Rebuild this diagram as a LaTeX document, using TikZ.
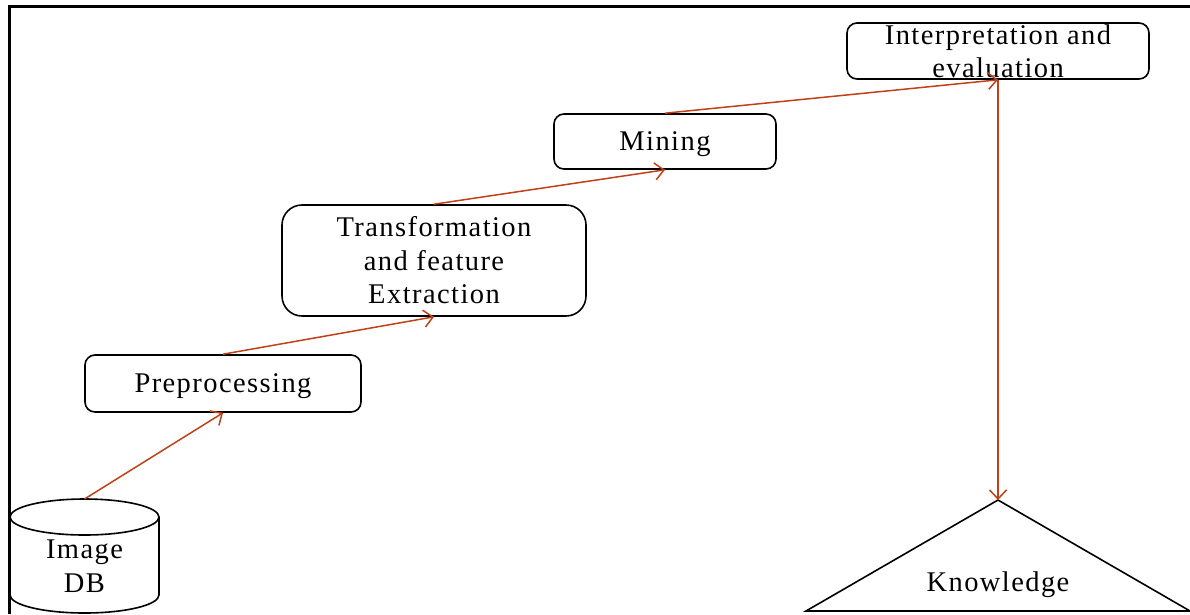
\documentclass[tikz,border=0pt]{standalone}
\usepackage{fontspec}
\setmainfont[LetterSpace=5]{Liberation Serif}
\usetikzlibrary{arrows.meta}
\definecolor{flowred}{RGB}{192,64,24}
\tikzset{
  stepbox/.style={draw,rounded corners=10pt,line width=1.6pt,align=center,inner sep=0pt},
  oneline/.style={text depth=0pt},
  flow/.style={draw=flowred,line width=1.5pt,-{Straight Barb[length=9pt,width=17pt]}},
  outline/.style={draw,line width=1.6pt}
}

\begin{document}
\begin{tikzpicture}[x=1pt,y=-1pt,font=\fontsize{28.5}{33.5}\selectfont]
  \useasboundingbox (0,0) rectangle (1190,614);
  % frame (only top and left are visible)
  \draw[line width=3pt] (9,614) -- (9,6) -- (1190,6);
  % database
  \draw[outline] (10,517) -- (10,595) arc (180:0:74.5 and 18) -- (159,517);
  \draw[outline] (84.5,517) ellipse (74.5 and 18);
  \coordinate (dbtop) at (84.5,499);
  \node[align=center] (imgdb) at (84.5,566) {Image\\DB};
  % steps
  \node[stepbox,oneline,minimum width=276pt,minimum height=57pt] (prep) at (223,383.5) {Preprocessing};
  \node[stepbox,rounded corners=20pt,minimum width=304pt,minimum height=111pt] (trans) at (434,260.5) {Transformation\\and feature\\Extraction};
  \node[stepbox,oneline,minimum width=222pt,minimum height=55pt] (mining) at (665,141.5) {Mining};
  \node[stepbox,minimum width=302pt,minimum height=56pt] (interp) at (998,51) {Interpretation and\\evaluation};
  % knowledge
  \draw[outline] (998,500) -- (1190,611) -- (806,611) -- cycle;
  \coordinate (knowtop) at (998,500);
  \node[oneline] (know) at (998,582) {Knowledge};
  % arrows
  \draw[flow] (dbtop) -- (prep.south);
  \draw[flow] (prep.north) -- (trans.south);
  \draw[flow] (trans.north) -- (mining.south);
  \draw[flow] (mining.north) -- (interp.south);
  \draw[flow] (interp.south) -- (knowtop);
\end{tikzpicture}
\end{document}
